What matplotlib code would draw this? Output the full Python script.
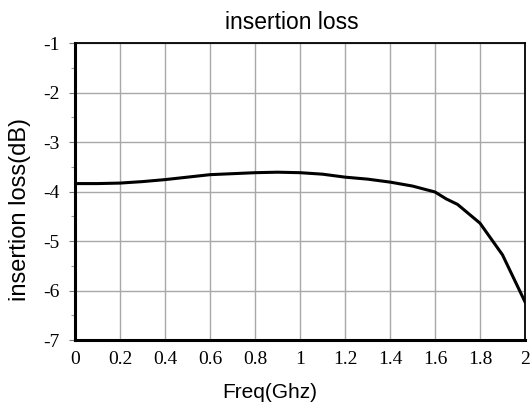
import numpy as np
import matplotlib.pyplot as plt
from matplotlib.ticker import MultipleLocator

# values
freq = [0.0, 0.1, 0.2, 0.3, 0.4, 0.5, 0.6, 0.7, 0.8, 0.9, 1.0, 1.1, 1.2, 1.3,
        1.4, 1.5, 1.6, 1.65, 1.7, 1.8, 1.9, 2.0]
loss = [-3.84, -3.84, -3.83, -3.80, -3.76, -3.71, -3.66, -3.64, -3.62, -3.61,
        -3.62, -3.65, -3.71, -3.75, -3.81, -3.89, -4.01, -4.15, -4.26, -4.64,
        -5.28, -6.23]

x_ticks = [0, 0.2, 0.4, 0.6, 0.8, 1, 1.2, 1.4, 1.6, 1.8, 2]
x_labels = ["0", "0.2", "0.4", "0.6", "0.8", "1", "1.2", "1.4", "1.6", "1.8", "2"]
y_ticks = [-7, -6, -5, -4, -3, -2, -1]
y_labels = ["-7", "-6", "-5", "-4", "-3", "-2", "-1"]

fig = plt.figure(figsize=(5.3, 4.05), dpi=100)
ax = fig.add_axes([75/530, 1-340/405, 450/530, 297/405])

ax.plot(freq, loss, color="black", lw=2.2, zorder=3)

ax.set_xlim(0, 2)
ax.set_ylim(-7, -1)
ax.set_xticks(x_ticks)
ax.set_xticklabels(x_labels)
ax.set_yticks(y_ticks)
ax.set_yticklabels(y_labels)
ax.yaxis.set_minor_locator(MultipleLocator(0.5))
ax.grid(True, color="#a8a8a8", lw=1.0)

ax.tick_params(axis="x", length=0, pad=8)
ax.tick_params(axis="y", which="major", length=4, width=0.8, color="#777777", pad=7)
ax.tick_params(axis="y", which="minor", length=3, width=0.8, color="#999999")
for lab in ax.get_xticklabels() + ax.get_yticklabels():
    lab.set_family("Liberation Serif")
    lab.set_fontsize(14)

ax.spines["left"].set_linewidth(2.2)
ax.spines["bottom"].set_linewidth(2.2)
ax.spines["top"].set_linewidth(1.3)
ax.spines["right"].set_linewidth(1.3)

fig.text(292/530, 1-29/405, "insertion loss", family="Liberation Sans",
         fontsize=16.5, ha="center", va="baseline")
ax.set_xlabel("Freq(Ghz)", family="Liberation Sans", fontsize=15)
ax.xaxis.set_label_coords(0.433, -0.145)
ax.set_ylabel("insertion loss(dB)", family="Liberation Sans", fontsize=17)
ax.yaxis.set_label_coords(-0.097, 0.438)

fig.savefig("out.png", dpi=100)
